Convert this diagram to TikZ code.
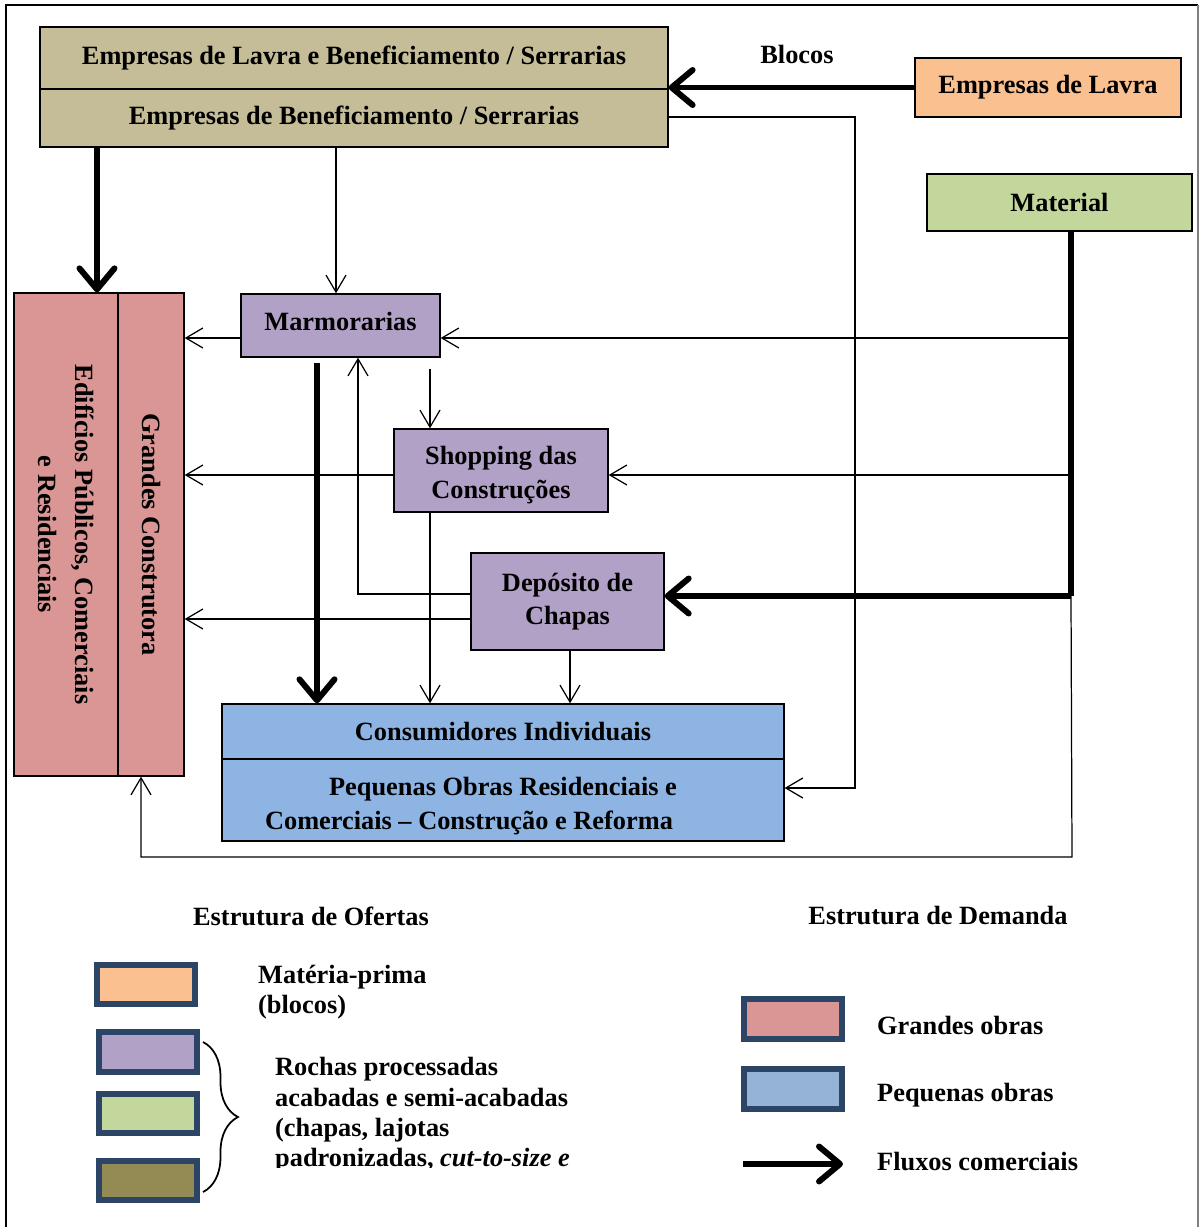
\documentclass[tikz,border=0pt]{standalone}
\usepackage{fontspec}
\setmainfont{Liberation Serif}
\usepackage{tikz}
\usetikzlibrary{arrows.meta,shapes,decorations.pathreplacing}

\definecolor{tan}{HTML}{C4BD97}
\definecolor{laranja}{HTML}{FAC090}
\definecolor{verde}{HTML}{C3D69B}
\definecolor{rosa}{HTML}{D99694}
\definecolor{lilas}{HTML}{B2A1C7}
\definecolor{azul}{HTML}{8DB4E2}
\definecolor{azulleg}{HTML}{95B3D7}
\definecolor{oliva}{HTML}{948A54}
\definecolor{marinho}{HTML}{2C4466}

\begin{document}
\begin{tikzpicture}[x=0.02cm,y=-0.02cm,font=\fontsize{15}{19}\selectfont\bfseries]
\tikzstyle{caixa}=[rectangle, draw, line width=0.8pt, inner sep=0pt, align=center]
\tikzstyle{fluxo}=[line width=0.7pt, -{Straight Barb[length=3.4mm,width=4mm]}]
\tikzstyle{fluxoforte}=[line width=3.4pt, -{Straight Barb[length=4.2mm,width=7mm,round]}]
\tikzstyle{legenda}=[rectangle, draw=marinho, line width=3.2pt, minimum width=1.97cm,
    minimum height=0.79cm, inner sep=0pt]

\useasboundingbox (0,0) rectangle (1200,1227);
\draw[line width=1.6pt] (6,1227) -- (6,5) -- (1198,5);
\draw[gray, line width=1pt] (1198,5) -- (1198,1227);

% fornecedores
\node[caixa, fill=tan, minimum width=12.56cm, minimum height=1.24cm] (lavben) at (354,58)
    {Empresas de Lavra e Beneficiamento / Serrarias};
\node[caixa, fill=tan, minimum width=12.56cm, minimum height=1.16cm] (serra) at (354,118)
    {Empresas de Beneficiamento / Serrarias};
\node (blocos) at (797,54) {Blocos};
\node[caixa, fill=laranja, minimum width=5.32cm, minimum height=1.18cm] (lavra) at (1048,87.5)
    {Empresas de Lavra};
\node[caixa, fill=verde, minimum width=5.3cm, minimum height=1.14cm] (mat) at (1059.5,202.5)
    {Material};

% demanda
\node[caixa, fill=rosa, minimum width=2.08cm, minimum height=9.66cm] (edif) at (66,534.5) {};
\node[caixa, fill=rosa, minimum width=1.32cm, minimum height=9.66cm] (grand) at (151,534.5) {};
\node[rotate=-90, align=center] (tedif) at (edif.center)
    {Edifícios Públicos, Comerciais\\[2pt]e Residenciais};
\node[rotate=-90] (tgrand) at (grand.center) {Grandes Construtora};

\node[caixa, fill=lilas, minimum width=3.98cm, minimum height=1.26cm] (marm) at (340.5,325.5) {};
\node (tmarm) at (340.5,321) {Marmorarias};
\node[caixa, fill=lilas, minimum width=4.28cm, minimum height=1.66cm] (shop) at (501,470.5) {};
\node[align=center] (tshop) at (501,475) {Shopping das\\Construções};
\node[caixa, fill=lilas, minimum width=3.86cm, minimum height=1.94cm] (dep) at (567.5,601.5)
    {Depósito de\\Chapas};

\node[caixa, fill=azul, minimum width=11.24cm, minimum height=1.1cm] (cons) at (503,731.5)
    {Consumidores Individuais};
\node[caixa, fill=azul, minimum width=11.24cm, minimum height=1.64cm] (peq) at (503,800) {};
\node[align=center] (tpeq) at (503,806)
    {Pequenas Obras Residenciais e\\Comerciais -- Construção e Reforma\hspace*{1.36cm}};

% pontos dos fluxos
\coordinate (r1) at (1070,338);
\coordinate (r2) at (1070,475);
\coordinate (c1) at (1071,596);
\coordinate (c2) at (1072,857);
\coordinate (c3) at (141,857);
\coordinate (b1) at (855,117);
\coordinate (b2) at (855,788);
\coordinate (d1) at (358,594);
\coordinate (d2) at (300,619);
\coordinate (s1) at (430,369);
\coordinate (k1) at (97,147);
\coordinate (k2) at (336,147);
\coordinate (k3) at (317,363);

\draw[fluxoforte] (lavra.west) -- (lavra.west -| lavben.east);
\draw[fluxoforte] (k1) -- (k1 |- edif.north);
\draw[fluxo] (k2) -- (k2 |- marm.north);
\draw[fluxoforte] (k3) -- (k3 |- cons.north);
\draw[line width=3.4pt] (mat.south -| c1) -- (c1);
\draw[fluxoforte] (c1) -- (dep.east |- c1);
\draw[fluxo] (r1) -- (marm.east |- r1);
\draw[fluxo] (r2) -- (shop.east |- r2);
\draw[fluxo] (c1) -- (c2) -- (c3) -- (c3 |- grand.south);
\draw[fluxo] (serra.east |- b1) -- (b1) -- (b2) -- (peq.east |- b2);
\draw[fluxo] (marm.west |- r1) -- (grand.east |- r1);
\draw[fluxo] (shop.west |- r2) -- (grand.east |- r2);
\draw[fluxo] (dep.west |- d2) -- (grand.east |- d2);
\draw[fluxo] (dep.west |- d1) -- (d1) -- (d1 |- marm.south);
\draw[fluxo] (s1) -- (s1 |- shop.north);
\draw[fluxo] (s1 |- shop.south) -- (s1 |- cons.north);
\draw[fluxo] (dep.south -| 570,0) -- (570,0 |- cons.north);

% legenda
\node (tof) at (311,916) {Estrutura de Ofertas};
\node (tdem) at (938,916) {Estrutura de Demanda};

\node[legenda, fill=laranja] (l1) at (146,984.5) {};
\node[legenda, fill=lilas] (l2) at (148,1052) {};
\node[legenda, fill=verde] (l3) at (148,1113.5) {};
\node[legenda, fill=oliva] (l4) at (148,1180.5) {};
\node[anchor=west, align=left, font=\fontsize{15}{17.3}\selectfont\bfseries] (tl1) at (252,992)
    {Matéria-prima\\(blocos)};
\draw[line width=1pt, decorate, decoration={brace, amplitude=0.7cm}] (203,1042) -- (203,1192);
\begin{scope}
\clip (240,1040) rectangle (700,1167);
\node[anchor=west, align=left, font=\fontsize{15}{17.3}\selectfont\bfseries] (tl2) at (269,1115)
    {Rochas processadas\\acabadas e semi-acabadas\\(chapas, lajotas\\padronizadas, \textit{cut-to-size e}};
\end{scope}

\node[legenda, fill=rosa] (l5) at (793,1019) {};
\node[legenda, fill=azulleg] (l6) at (793,1089) {};
\node[anchor=west] (tl5) at (871,1025) {Grandes obras};
\node[anchor=west] (tl6) at (871,1095) {Pequenas obras};
\coordinate (f1) at (743,1164);
\coordinate (f2) at (843,1164);
\draw[fluxoforte] (f1) -- (f2);
\node[anchor=west] (tl7) at (871,1162) {Fluxos comerciais};
\end{tikzpicture}
\end{document}
